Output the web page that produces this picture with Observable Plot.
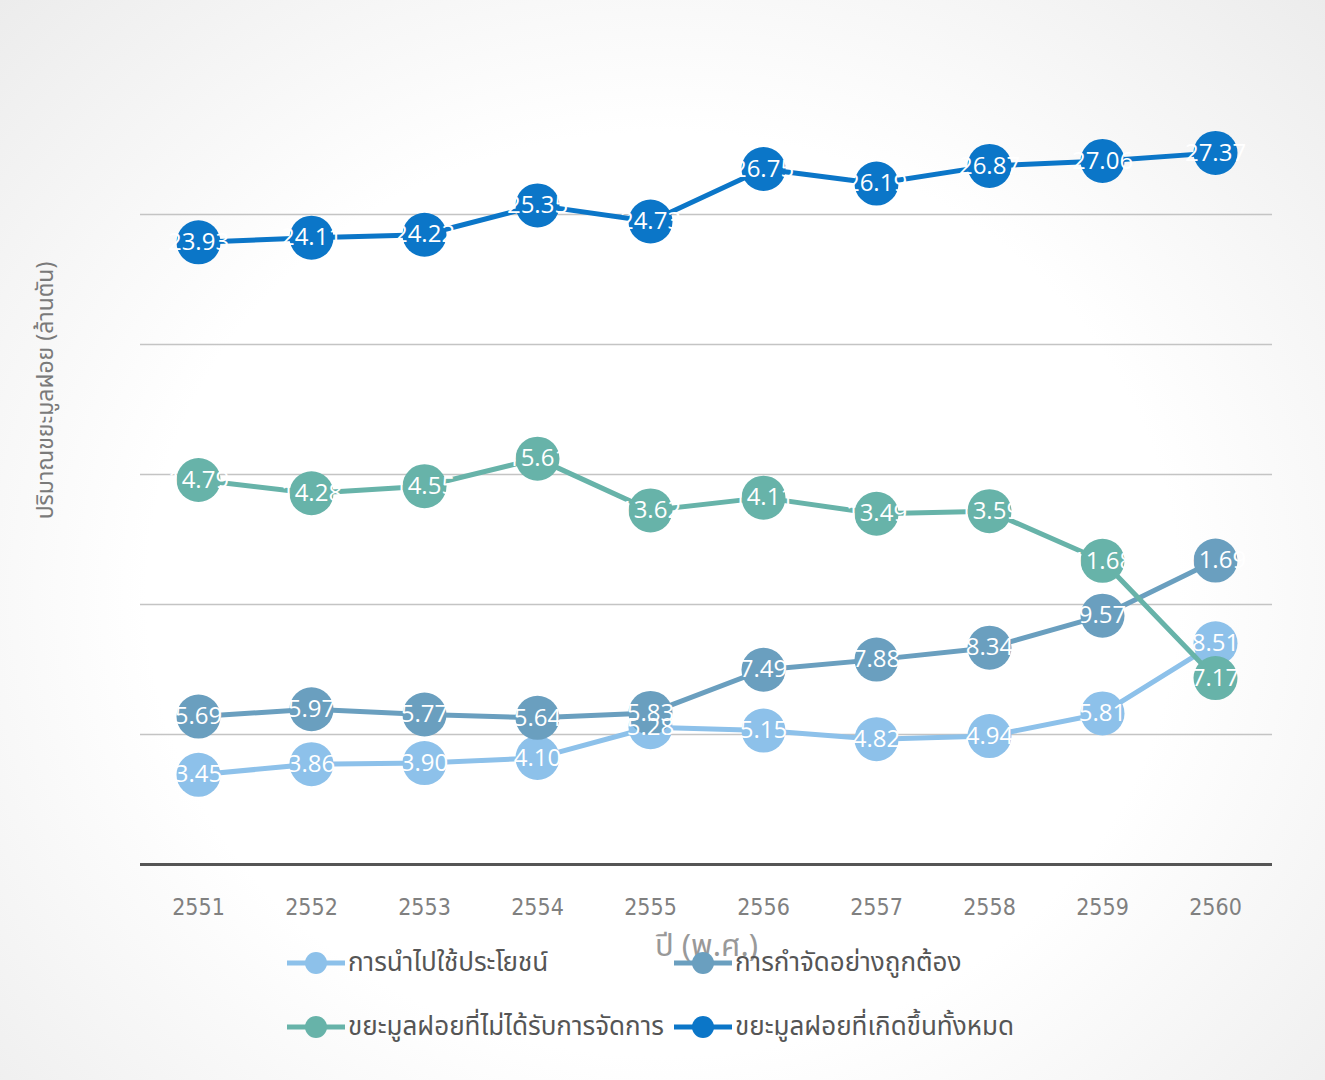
<!DOCTYPE html>
<html>
<head>
<meta charset="utf-8">
<script src="https://cdn.jsdelivr.net/npm/d3@7"></script>
<script src="https://cdn.jsdelivr.net/npm/@observablehq/plot@0.6"></script>
<style>
  html, body { margin: 0; padding: 0; }
  body {
    width: 1325px; height: 1080px; overflow: hidden;
    background: radial-gradient(ellipse at 50% 55%, #ffffff 55%, #ececec 100%);
    font-family: Tahoma, "Noto Sans Thai", "DejaVu Sans", sans-serif;
  }
  #wrap { position: relative; width: 1325px; height: 1080px; }
  #wrap svg { position: absolute; left: 0; top: 0; background: transparent; }
  .legend-item { position: absolute; display: flex; align-items: center; font-size: 26px; color: #555; white-space: nowrap; }
  .legend-item svg { position: static !important; margin-right: 3px; }
</style>
</head>
<body>
<div id="wrap"></div>
<script>
const years = ["2551","2552","2553","2554","2555","2556","2557","2558","2559","2560"];
const utilization = [3.45, 3.86, 3.90, 4.10, 5.28, 5.15, 4.82, 4.94, 5.81, 8.51];
const disposal    = [5.69, 5.97, 5.77, 5.64, 5.83, 7.49, 7.88, 8.34, 9.57, 11.69];
const unmanaged   = [14.79, 14.28, 14.55, 15.61, 13.62, 14.11, 13.49, 13.59, 11.68, 7.17];
const total       = [23.93, 24.11, 24.22, 25.35, 24.73, 26.75, 26.19, 26.87, 27.06, 27.37];
const seriesNames = ["การนำไปใช้ประโยชน์", "การกำจัดอย่างถูกต้อง", "ขยะมูลฝอยที่ไม่ได้รับการจัดการ", "ขยะมูลฝอยที่เกิดขึ้นทั้งหมด"];
const seriesColors = ["#8dc1ea", "#6a9fbf", "#67b3a9", "#0b76c8"];
const gridValues = [5, 10, 15, 20, 25];
const yTitle = "ปริมาณขยะมูลฝอย (ล้านตัน)";
const xTitle = "ปี (พ.ศ.)";

const seriesValues = [utilization, disposal, unmanaged, total];
const rowsBySeries = seriesValues.map((arr, s) => years.map((y, i) => ({year: y, value: arr[i], series: seriesNames[s]})));

const seriesMarks = rowsBySeries.flatMap((rows, s) => [
  Plot.lineY(rows, {x: "year", y: "value", stroke: seriesColors[s], strokeWidth: 5}),
  Plot.dot(rows, {x: "year", y: "value", r: 22, fill: seriesColors[s], stroke: "none"})
]);
const labelMarks = rowsBySeries.map(rows =>
  Plot.text(rows, {x: "year", y: "value", text: d => d.value.toFixed(2), fill: "white", fontSize: 24,
    fontFamily: "'Open Sans', 'DejaVu Sans', sans-serif"})
);

const chart = Plot.plot({
  width: 1325,
  height: 1080,
  marginLeft: 140,
  marginRight: 53,
  marginTop: 84,
  marginBottom: 216,
  style: {background: "transparent", fontFamily: "Tahoma, 'Noto Sans Thai', 'DejaVu Sans', sans-serif"},
  x: {type: "point", domain: years, padding: 0.5, axis: null},
  y: {domain: [0, 30], axis: null},
  marks: [
    Plot.gridY(gridValues, {stroke: "#c4c4c4", strokeOpacity: 1, strokeWidth: 1.5}),
    Plot.ruleY([0], {stroke: "#555", strokeWidth: 3}),
    Plot.axisX({tickSize: 0, tickPadding: 34, fontSize: 23, label: null, color: "#808080",
      fontFamily: "'Liberation Sans Narrow', 'Arial Narrow', 'DejaVu Sans Condensed', sans-serif"}),
    Plot.text([xTitle], {frameAnchor: "bottom", dy: 91, fontSize: 31, fill: "#999"}),
    Plot.text([yTitle], {frameAnchor: "left", textAnchor: "middle", rotate: -90, dx: -95, dy: -84, fontSize: 23, fill: "#7a7a7a"}),
    ...seriesMarks,
    ...labelMarks
  ]
});
const wrap = document.getElementById("wrap");
wrap.appendChild(chart);

// Legend (2x2)
const legendPos = [[287, 963], [674, 963], [287, 1027], [674, 1027]];
seriesNames.forEach((name, i) => {
  const item = document.createElement("div");
  item.className = "legend-item";
  item.style.left = legendPos[i][0] + "px";
  item.style.top = (legendPos[i][1] - 20) + "px";
  item.style.height = "40px";
  const sw = document.createElementNS("http://www.w3.org/2000/svg", "svg");
  sw.setAttribute("width", 58); sw.setAttribute("height", 24);
  const ln = document.createElementNS("http://www.w3.org/2000/svg", "line");
  ln.setAttribute("x1", 0); ln.setAttribute("x2", 58); ln.setAttribute("y1", 12); ln.setAttribute("y2", 12);
  ln.setAttribute("stroke", seriesColors[i]); ln.setAttribute("stroke-width", 5);
  const c = document.createElementNS("http://www.w3.org/2000/svg", "circle");
  c.setAttribute("cx", 29); c.setAttribute("cy", 12); c.setAttribute("r", 11);
  c.setAttribute("fill", seriesColors[i]);
  sw.appendChild(ln); sw.appendChild(c);
  item.appendChild(sw);
  const t = document.createElement("span");
  t.textContent = name;
  item.appendChild(t);
  wrap.appendChild(item);
});
</script>
</body>
</html>
